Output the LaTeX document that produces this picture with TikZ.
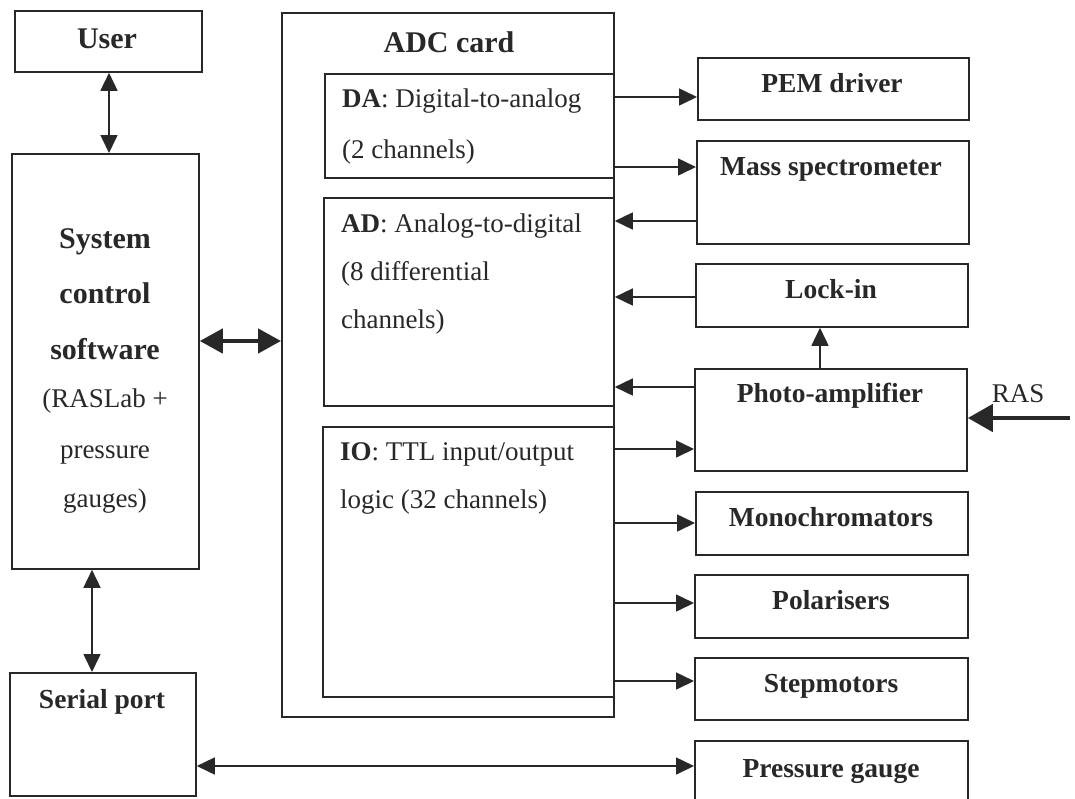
\documentclass[tikz,border=0pt]{standalone}
\usepackage{fontspec}
\setmainfont{Liberation Serif}
\usetikzlibrary{arrows.meta}
\definecolor{ink}{RGB}{40,40,40}
\begin{document}
\begin{tikzpicture}[x=1pt,y=-1pt,
  box/.style={draw=ink, line width=1.8pt, rectangle, inner sep=0pt, anchor=north west},
  bl/.style={font=\bfseries\fontsize{27.5}{33}\selectfont, text=ink, inner sep=0pt, anchor=base},
  bbig/.style={font=\bfseries\fontsize{30}{36}\selectfont, text=ink, inner sep=0pt, anchor=base},
  rg/.style={font=\fontsize{27}{32}\selectfont, text=ink, inner sep=0pt, anchor=base},
  rgl/.style={font=\fontsize{27}{32}\selectfont, text=ink, inner sep=0pt, anchor=base west},
  arr/.style={draw=ink, line width=1.6pt, -{Triangle[length=18pt,width=17pt]}},
  dbl/.style={draw=ink, line width=1.6pt, {Triangle[length=18pt,width=17pt]}-{Triangle[length=18pt,width=17pt]}},
  fatdbl/.style={draw=ink, line width=4.5pt, {Triangle[length=23pt,width=24pt]}-{Triangle[length=23pt,width=24pt]}},
  fatarr/.style={draw=ink, line width=4.5pt, -{Triangle[length=25pt,width=27pt]}}]
\clip (0,0) rectangle (1075,798);
\fill[white] (0,0) rectangle (1075,798);

% left column
\node[box, minimum width=187pt, minimum height=61pt] (user) at (14,10) {};
\node[box, minimum width=187pt, minimum height=415pt] (sys) at (11,153) {};
\node[box, minimum width=186pt, minimum height=123pt] (serial) at (9,672) {};

% ADC card
\node[box, minimum width=332pt, minimum height=704pt] (adc) at (281,12) {};
\node[box, minimum width=289pt, minimum height=104pt] (da) at (324,73) {};
\node[box, minimum width=290pt, minimum height=208pt] (ad) at (323,197) {};
\node[box, minimum width=291pt, minimum height=270pt] (io) at (322,426) {};

% right column
\node[box, minimum width=271pt, minimum height=62pt] (pem) at (697,57) {};
\node[box, minimum width=272pt, minimum height=103pt] (mass) at (696,140) {};
\node[box, minimum width=272pt, minimum height=63pt] (lock) at (695,263) {};
\node[box, minimum width=272pt, minimum height=102pt] (photo) at (694,368) {};
\node[box, minimum width=272pt, minimum height=63pt] (mono) at (695,491) {};
\node[box, minimum width=273pt, minimum height=63pt] (polar) at (694,574) {};
\node[box, minimum width=273pt, minimum height=62pt] (step) at (694,657) {};
\node[box, minimum width=273pt, minimum height=100pt] (press) at (694,740) {};

% texts
\node[bbig] (tuser) at (107,48) {User};
\node[bbig] (tsys1) at (105,248) {System};
\node[bbig] (tsys2) at (105,303) {control};
\node[bbig] (tsys3) at (105,359) {software};
\node[rg] (tsys4) at (105,407) {(RASLab +};
\node[rg] (tsys5) at (105,458) {pressure};
\node[rg] (tsys6) at (105,507) {gauges)};
\node[bl] (tserial) at (102,708) {Serial port};

\node[bbig] (tadc) at (449,52) {ADC card};
\node[rgl] (tda1) at (342,107) {\textbf{DA}: Digital-to-analog};
\node[rgl] (tda2) at (342,158) {(2 channels)};
\node[rgl] (tad1) at (341,232) {\textbf{AD}: Analog-to-digital};
\node[rgl] (tad2) at (341,280) {(8 differential};
\node[rgl] (tad3) at (341,328) {channels)};
\node[rgl] (tio1) at (340,460) {\textbf{IO}: TTL input/output};
\node[rgl] (tio2) at (340,508) {logic (32 channels)};

\node[bl] (tpem) at (832,92) {PEM driver};
\node[bl] (tmass) at (831,175) {Mass spectrometer};
\node[bl] (tlock) at (831,298) {Lock-in};
\node[bl] (tphoto) at (830,402) {Photo-amplifier};
\node[bl] (tmono) at (831,526) {Monochromators};
\node[bl] (tpolar) at (831,609) {Polarisers};
\node[bl] (tstep) at (831,692) {Stepmotors};
\node[bl] (tpress) at (831,777) {Pressure gauge};
\node[rg] (tras) at (1018,402) {RAS};

% helper coordinates for connector positions
\coordinate (xu) at (109,0);
\coordinate (xs) at (92,0);
\coordinate (xl) at (820,0);
\coordinate (ysa) at (0,341);
\coordinate (y1) at (0,97);
\coordinate (y2) at (0,167);
\coordinate (y3) at (0,221);
\coordinate (y4) at (0,297);
\coordinate (y5) at (0,387);
\coordinate (y6) at (0,449);
\coordinate (y7) at (0,523);
\coordinate (y8) at (0,603);
\coordinate (y9) at (0,681);
\coordinate (yp) at (0,766);
\coordinate (rasin) at (1070,418);

% connectors
\draw[dbl] (user.south -| xu) -- (sys.north -| xu);
\draw[dbl] (sys.south -| xs) -- (serial.north -| xs);
\draw[fatdbl] (sys.east |- ysa) -- (adc.west |- ysa);
\draw[arr] (da.east |- y1) -- (pem.west |- y1);
\draw[arr] (da.east |- y2) -- (mass.west |- y2);
\draw[arr] (mass.west |- y3) -- (ad.east |- y3);
\draw[arr] (lock.west |- y4) -- (ad.east |- y4);
\draw[arr] (photo.west |- y5) -- (ad.east |- y5);
\draw[arr] (photo.north -| xl) -- (lock.south -| xl);
\draw[arr] (io.east |- y6) -- (photo.west |- y6);
\draw[arr] (io.east |- y7) -- (mono.west |- y7);
\draw[arr] (io.east |- y8) -- (polar.west |- y8);
\draw[arr] (io.east |- y9) -- (step.west |- y9);
\draw[dbl] (serial.east |- yp) -- (press.west |- yp);
\draw[fatarr] (rasin) -- (photo.east |- rasin);
\end{tikzpicture}
\end{document}
